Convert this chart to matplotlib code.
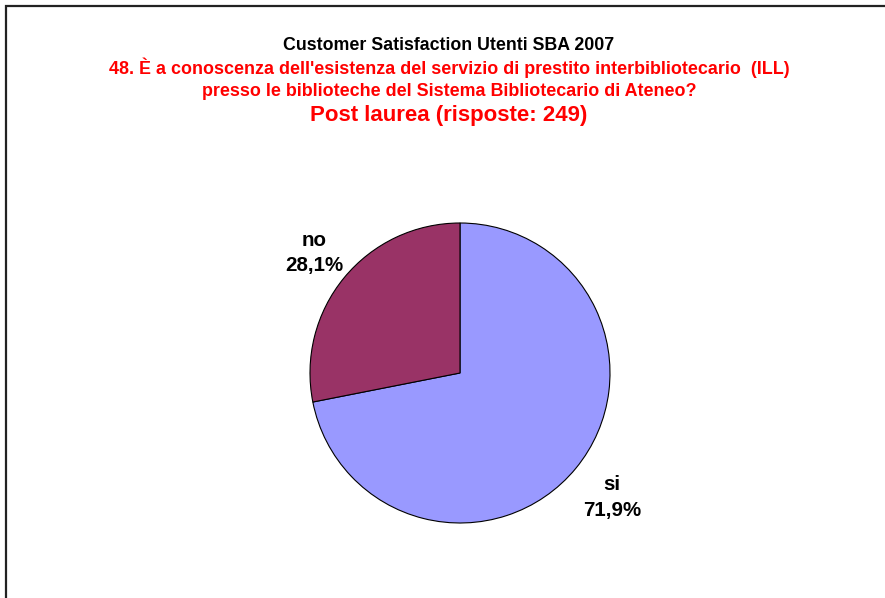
import matplotlib
matplotlib.use("Agg")
import matplotlib.pyplot as plt
from matplotlib.patches import Rectangle

plt.rcParams["font.family"] = ["Liberation Sans", "DejaVu Sans"]

# data
categories = ["si", "no"]
values = [71.9, 28.1]
colors = ["#9999FF", "#993366"]
title_main = "Customer Satisfaction Utenti SBA 2007"
title_question = [
    "48. È a conoscenza dell'esistenza del servizio di prestito interbibliotecario  (ILL)",
    "presso le biblioteche del Sistema Bibliotecario di Ateneo?",
]
title_group = "Post laurea (risposte: 249)"
label_dist = [1.31, 1.26]   # Excel places each label a bit differently

W, H = 885, 598
fig = plt.figure(figsize=(W / 100, H / 100), dpi=100)

# chart-area frame (only left and top edges visible in the picture)
fig.patches.append(Rectangle((5.5 / W, -0.1), 1.2, 1.1 - 6.5 / H,
                             transform=fig.transFigure, fill=False,
                             edgecolor="#222222", linewidth=1.6))

# ── titles ──────────────────────────────────────────────────────────────
cx = 449 / W
fig.text(cx, 1 - 45 / H, title_main, ha="center", va="center",
         fontsize=12.8, fontweight="bold", color="black")
for i, line in enumerate(title_question):
    fig.text(cx, 1 - (68 + 23 * i) / H, line, ha="center", va="center",
             fontsize=12.9, fontweight="bold", color="#FF0000")
fig.text(cx, 1 - 115 / H, title_group, ha="center", va="center",
         fontsize=16, fontweight="bold", color="#FF0000")

# ── pie ─────────────────────────────────────────────────────────────────
r_px = 150
ax = fig.add_axes([(460 - r_px) / W, (H - 373 - r_px) / H, 2 * r_px / W, 2 * r_px / H])
labels = [f"{c}\n{v:.1f}%".replace(".", ",") for c, v in zip(categories, values)]
wedges, texts = ax.pie(values, colors=colors, labels=labels, startangle=90,
                       counterclock=False, labeldistance=1.0,
                       wedgeprops=dict(edgecolor="black", linewidth=0.8),
                       textprops=dict(fontsize=14.8, fontweight="bold", linespacing=1.45))
for t, d in zip(texts, label_dist):
    x, y = t.get_position()
    t.set_position((x * d, y * d))
    t.set_ha("center")
    t.set_va("center")
ax.set_xlim(-1, 1)
ax.set_ylim(-1, 1)
ax.set_aspect("equal")

fig.savefig("out.png", dpi=100)
